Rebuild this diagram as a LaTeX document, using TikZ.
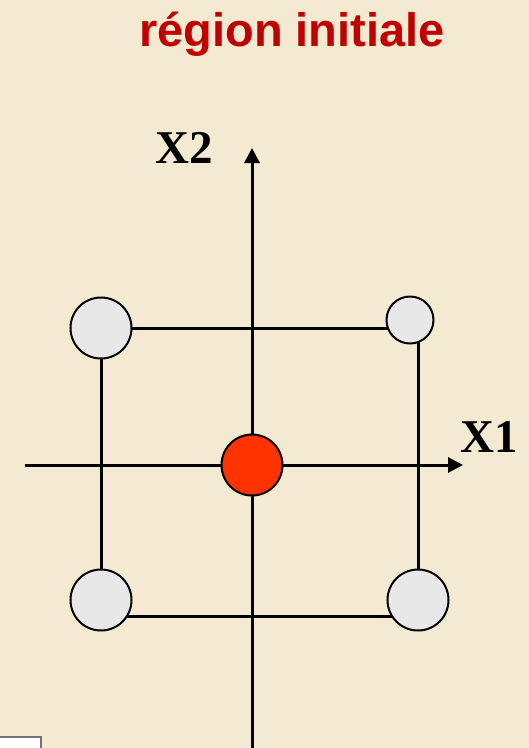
\documentclass[tikz,border=0pt]{standalone}
\usepackage{fontspec}
\setmainfont{Liberation Serif}
\setsansfont{Liberation Sans}
\usepackage{xcolor}
\usetikzlibrary{positioning, arrows.meta}

\definecolor{parchment}{HTML}{F4E9D1}
\definecolor{titlered}{HTML}{C00000}
\definecolor{startred}{HTML}{FF3300}
\definecolor{pointgray}{HTML}{E8E8E8}

\begin{document}
\begin{tikzpicture}[x=1pt,y=-1pt,
    axis/.style={line width=3pt,-{Triangle[length=15pt,width=15pt]}},
    edge/.style={line width=3pt},
    point/.style={circle,draw,line width=2pt,fill=pointgray,inner sep=0pt},
    label/.style={font=\fontsize{47}{47}\selectfont\bfseries,anchor=base}]
    \useasboundingbox[fill=parchment] (0,0) rectangle (529,748);

    % axes
    \coordinate (xstart) at (25,465);
    \coordinate (xend) at (463,465);
    \coordinate (ystart) at (252,760);
    \coordinate (yend) at (252,148);
    \draw[axis] (xstart) -- (xend);
    \draw[axis] (ystart) -- (yend);

    % initial region
    \coordinate (tl) at (101,328);
    \coordinate (tr) at (418,328);
    \coordinate (br) at (418,616);
    \coordinate (bl) at (101,616);
    \draw[edge] (tl) -- (tr) -- (br) -- (bl) -- cycle;

    \node[point,minimum size=61pt] (p1) at (101,328) {};
    \node[point,minimum size=47pt] (p2) at (410,320) {};
    \node[point,minimum size=61pt] (p3) at (101,600) {};
    \node[point,minimum size=61pt] (p4) at (418,600) {};
    \node[point,minimum size=61pt,fill=startred] (p0) at (252,465) {};

    \node[label] (x2) at (184,163) {X2};
    \node[label] (x1) at (489,452) {X1};
    \node[label,font=\fontsize{47}{47}\selectfont\sffamily\bfseries,text=titlered] (title) at (292,46) {région initiale};

    \draw[line width=2.5pt,draw=black!55,fill=white] (-5,737) rectangle (41,760);
\end{tikzpicture}
\end{document}
